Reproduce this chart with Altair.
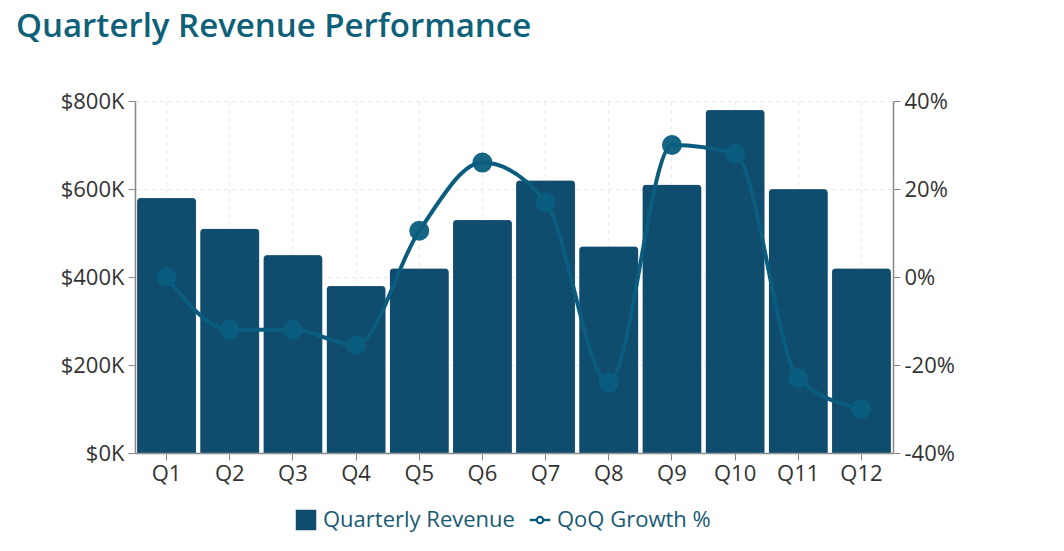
import altair as alt
import pandas as pd

quarters = ["Q1", "Q2", "Q3", "Q4", "Q5", "Q6", "Q7", "Q8", "Q9", "Q10", "Q11", "Q12"]
revenue = [580000, 510000, 450000, 380000, 420000, 530000, 620000, 470000, 610000, 780000, 600000, 420000]
growth = [0, -12, -12, -15.5, 10.5, 26, 17, -24, 30, 28, -23, -30]
series_names = ["Quarterly Revenue", "QoQ Growth %"]

BAR = "#0f4c6e"
LINE = "#0a5d7e"
FONT = "Open Sans"
LAB = 22

df = pd.DataFrame({"quarter": quarters, "revenue": revenue, "growth": growth})

LINE_SYMBOL = ("M-1,-0.13H-0.4V0.13H-1Z M0.4,-0.13H1V0.13H0.4Z "
               "M0.42,0A0.42,0.42 0 1,1 -0.42,0A0.42,0.42 0 1,1 0.42,0Z "
               "M0.2,0A0.2,0.2 0 1,0 -0.2,0A0.2,0.2 0 1,0 0.2,0Z")

color_scale = alt.Scale(domain=series_names, range=[BAR, LINE])

x_enc = alt.X("quarter:N", sort=quarters,
              scale=alt.Scale(paddingInner=0.06, paddingOuter=0.03),
              axis=alt.Axis(title=None, labelAngle=0, grid=True, gridDash=[4, 4],
                            gridColor="#e8e8e8", domainColor="#888", tickColor="#888",
                            tickSize=7, labelPadding=3, labelFontSize=LAB,
                            labelColor="#333", labelFont=FONT, domainWidth=1.5))

bars = alt.Chart(df).mark_bar(cornerRadiusTopLeft=4, cornerRadiusTopRight=4,
                              stroke="white", strokeWidth=0.5, strokeOpacity=0.3).encode(
    x=x_enc,
    y=alt.Y("revenue:Q", scale=alt.Scale(domain=[0, 800000]),
            axis=alt.Axis(title=None, values=[0, 200000, 400000, 600000, 800000],
                          labelExpr="'$' + datum.value / 1000 + 'K'",
                          grid=True, gridDash=[4, 4], gridColor="#e8e8e8",
                          domainColor="#888", tickColor="#888", tickSize=7,
                          labelPadding=4, labelFontSize=LAB, labelColor="#333",
                          labelFont=FONT, domainWidth=1.5)),
    color=alt.Color("s:N", scale=color_scale,
                    legend=alt.Legend(
                        title=None, orient="none", direction="horizontal",
                        legendX=160, legendY=408,
                        symbolType=alt.ExprRef(
                            "datum.value == 'QoQ Growth %' ? '" + LINE_SYMBOL + "' : 'square'"),
                        symbolSize=420, symbolStrokeWidth=0, symbolOpacity=1,
                        labelFontSize=22, labelFont=FONT, labelColor="#165a74",
                        labelOffset=6, columnPadding=14, symbolLimit=0, labelLimit=0)),
).transform_calculate(s="'Quarterly Revenue'")

y2 = alt.Y("growth:Q", scale=alt.Scale(domain=[-40, 40]),
           axis=alt.Axis(title=None, orient="right", values=[-40, -20, 0, 20, 40],
                         labelExpr="datum.value + '%'", grid=False,
                         domainColor="#888", tickColor="#888", tickSize=7,
                         labelPadding=4, labelFontSize=LAB, labelColor="#333",
                         labelFont=FONT, domainWidth=1.5))

line = alt.Chart(df).mark_line(interpolate="monotone", strokeWidth=4).encode(
    x=alt.X("quarter:N", sort=quarters),
    y=y2,
    color=alt.Color("s:N", scale=color_scale),
).transform_calculate(s="'QoQ Growth %'")

points = alt.Chart(df).mark_point(filled=True, size=400, color=LINE, opacity=0.95).encode(
    x=alt.X("quarter:N", sort=quarters),
    y=y2,
)

growth_layer = alt.layer(line, points)

chart = alt.layer(bars, growth_layer).resolve_scale(y="independent").properties(
    width=758, height=352,
    autosize=alt.AutoSizeParams(type="none"),
    padding={"left": 127, "top": 93, "right": 120, "bottom": 80},
    title=alt.TitleParams("Quarterly Revenue Performance", anchor="start", frame="group",
                          dx=-119, offset=46, fontSize=33, fontWeight=600,
                          color="#0e6178", font=FONT),
).configure_view(stroke=None)

chart.save("out.html", embed_options={"renderer": "svg", "actions": False})
